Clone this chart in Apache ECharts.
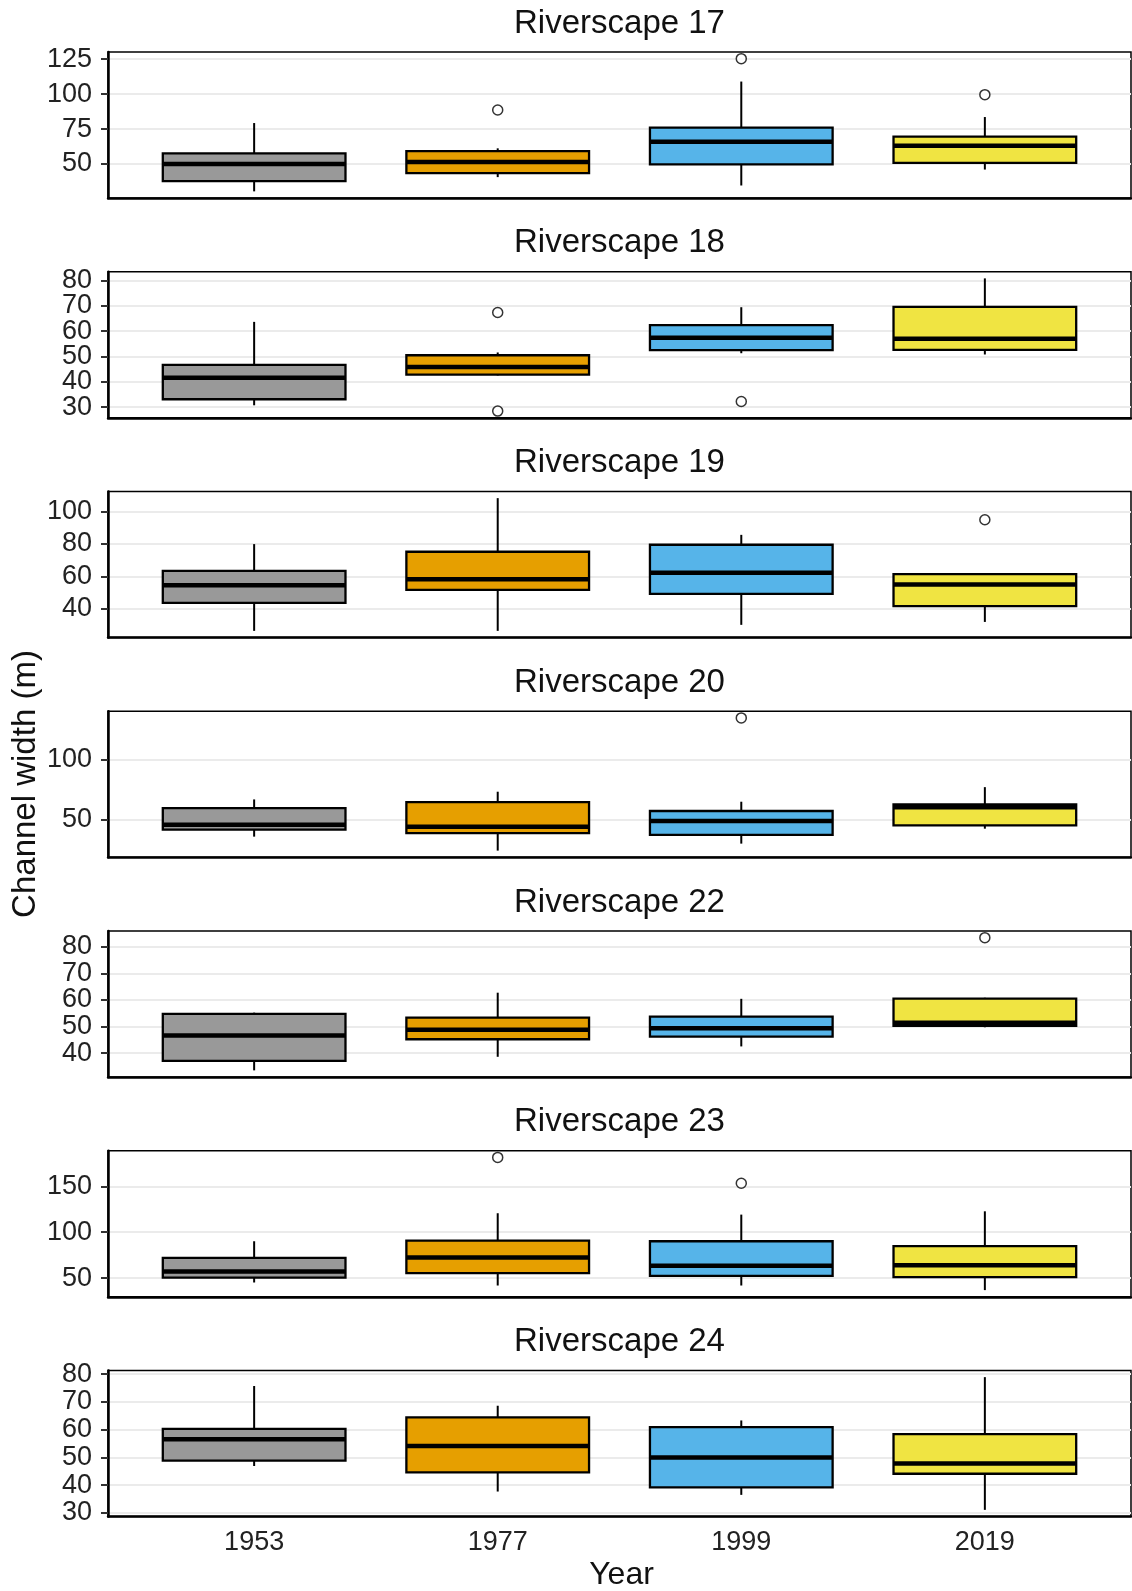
<!DOCTYPE html>
<html><head><meta charset="utf-8">
<script src="https://cdn.jsdelivr.net/npm/echarts@6/dist/echarts.min.js"></script>
<style>html,body{margin:0;padding:0;background:#fff}#chart{width:1132px;height:1591px}</style>
</head><body><div id="chart"></div>
<script>
// ---------------- DATA ----------------
const years = ['1953', '1977', '1999', '2019'];
const panelTitles = ['Riverscape 17', 'Riverscape 18', 'Riverscape 19', 'Riverscape 20',
                     'Riverscape 22', 'Riverscape 23', 'Riverscape 24'];
const yAxisTitle = 'Channel width (m)';
const xAxisTitle = 'Year';

// box stats per year: [lower whisker, Q1, median, Q3, upper whisker]
const box17 = [[30.4, 37.7, 50.0, 57.6, 79.3], [40.6, 43.5, 51.4, 59.2, 61.2], [34.6, 49.7, 66.0, 76.0, 109.0], [46.0, 50.8, 63.0, 69.6, 83.6]];
const box18 = [[30.7, 33.1, 41.6, 46.7, 63.7], [42.5, 42.8, 45.8, 50.5, 51.6], [51.3, 52.5, 57.4, 62.4, 69.5], [50.8, 52.6, 57.0, 69.6, 80.9]];
const box19 = [[26.5, 43.7, 54.6, 63.4, 79.9], [26.5, 51.7, 58.3, 75.2, 108.2], [30.2, 49.3, 62.2, 79.5, 85.6], [32.0, 41.7, 55.0, 61.4, 61.4]];
const box20 = [[36.2, 42.0, 46.0, 59.9, 67.1], [24.6, 39.2, 44.5, 64.9, 73.5], [30.4, 37.6, 49.2, 57.5, 65.2], [42.8, 45.6, 60.5, 63.0, 77.3]];
const box22 = [[33.5, 37.1, 46.6, 54.7, 55.2], [38.6, 45.2, 48.8, 53.3, 62.7], [42.5, 46.2, 49.3, 53.7, 60.4], [49.7, 50.2, 51.4, 60.5, 60.8]];
const box23 = [[45.3, 50.7, 57.2, 72.1, 90.2], [42.0, 55.4, 72.4, 90.9, 120.7], [42.0, 52.5, 63.4, 90.2, 119.2], [37.0, 51.1, 64.1, 84.8, 122.8]];
const box24 = [[46.9, 48.8, 56.5, 60.3, 75.7], [37.7, 44.6, 54.1, 64.4, 68.6], [36.5, 39.2, 50.0, 60.9, 63.3], [31.1, 44.1, 47.8, 58.4, 78.9]];

// outliers: [year, value]
const out17 = [['1977', 88.6], ['1999', 125.4], ['2019', 99.6]];
const out18 = [['1977', 67.4], ['1977', 28.4], ['1999', 32.2]];
const out19 = [['2019', 94.9]];
const out20 = [['1999', 134.8]];
const out22 = [['2019', 83.4]];
const out23 = [['1977', 181.5], ['1999', 153.3]];
const out24 = [];

// y tick labels per panel
const ticks17 = [50, 75, 100, 125];
const ticks18 = [30, 40, 50, 60, 70, 80];
const ticks19 = [40, 60, 80, 100];
const ticks20 = [50, 100];
const ticks22 = [40, 50, 60, 70, 80];
const ticks23 = [50, 100, 150];
const ticks24 = [30, 40, 50, 60, 70, 80];

// ---------------- STYLE / LAYOUT ----------------
const boxColors = ['#999999', '#E69F00', '#56B4E9', '#F0E442'];
const FONT = "'Liberation Sans', Arial, Helvetica, sans-serif";
const LEFT = 108, WIDTH = 1023, TOP0 = 52, STEP = 219.75, H = 146;
const BOX_W = 0.75;

const boxes = [box17, box18, box19, box20, box22, box23, box24];
const outs = [out17, out18, out19, out20, out22, out23, out24];
const ticks = [ticks17, ticks18, ticks19, ticks20, ticks22, ticks23, ticks24];

const grids = [], xAxes = [], yAxes = [], series = [], graphics = [];

function renderBox(params, api) {
  const idx = api.value(0);
  const lo = api.coord([idx, api.value(1)]);
  const q1 = api.coord([idx, api.value(2)]);
  const md = api.coord([idx, api.value(3)]);
  const q3 = api.coord([idx, api.value(4)]);
  const hi = api.coord([idx, api.value(5)]);
  const bw = api.size([BOX_W, 0])[0];
  const cx = lo[0];
  return {
    type: 'group',
    children: [
      { type: 'line', shape: { x1: cx, y1: hi[1], x2: cx, y2: lo[1] }, style: { stroke: '#000', lineWidth: 2 } },
      { type: 'rect', shape: { x: cx - bw / 2, y: q3[1], width: bw, height: q1[1] - q3[1] },
        style: { fill: boxColors[idx], stroke: '#000', lineWidth: 2.3 } },
      { type: 'line', shape: { x1: cx - bw / 2, y1: md[1], x2: cx + bw / 2, y2: md[1] }, style: { stroke: '#000', lineWidth: 4.5 } }
    ]
  };
}

function yAxisDef(i, mn, mx, vals, primary) {
  return {
    type: 'value', gridIndex: i, position: 'left', min: mn, max: mx,
    axisLine: { show: primary, onZero: false, lineStyle: { color: '#000', width: 2.5 } },
    axisTick: { show: true, length: 7, lineStyle: { color: '#333', width: 2 }, customValues: vals },
    axisLabel: { fontSize: 27, color: '#222', fontFamily: FONT, margin: 16, customValues: vals },
    splitLine: { show: true, lineStyle: { color: '#EBEBEB', width: 2 } }
  };
}

boxes.forEach((bx, i) => {
  const top = TOP0 + i * STEP;
  const isLast = i === boxes.length - 1;
  let vals = [];
  bx.forEach(b => vals = vals.concat(b));
  outs[i].forEach(o => vals.push(o[1]));
  const dmin = Math.min(...vals), dmax = Math.max(...vals);
  const pad = (dmax - dmin) * 0.05;
  const tA = ticks[i].filter((t, k) => k % 2 === 0);
  const tB = ticks[i].filter((t, k) => k % 2 === 1);

  grids.push({ left: LEFT, width: WIDTH, top: top, height: H, show: true,
               borderColor: '#000', borderWidth: 1.5, backgroundColor: 'transparent' });
  xAxes.push({
    type: 'value', gridIndex: i, position: 'bottom', min: -0.6, max: years.length - 0.4,
    axisLine: { show: true, onZero: false, lineStyle: { color: '#000', width: 2.5 } },
    axisTick: { show: false },
    axisLabel: { show: isLast, fontSize: 27, color: '#222', fontFamily: FONT, margin: 13,
                 customValues: years.map((y, k) => k), formatter: v => years[Math.round(v)] },
    splitLine: { show: false }
  });
  const ia = yAxes.length;
  yAxes.push(yAxisDef(i, dmin - pad, dmax + pad, tA, true));
  yAxes.push(yAxisDef(i, dmin - pad, dmax + pad, tB, false));
  series.push({
    type: 'custom', xAxisIndex: i, yAxisIndex: ia, renderItem: renderBox, z: 3,
    data: bx.map((b, k) => [k].concat(b))
  });
  series.push({
    type: 'scatter', xAxisIndex: i, yAxisIndex: ia, z: 4, symbol: 'circle', symbolSize: 10,
    itemStyle: { color: '#fff', borderColor: '#000', borderWidth: 1.5 },
    data: outs[i].map(o => [years.indexOf(o[0]), o[1]])
  });
  graphics.push({
    type: 'text', x: LEFT + WIDTH / 2, y: top - 28.5,
    style: { text: panelTitles[i], align: 'center', verticalAlign: 'middle',
             fontSize: 33, fontFamily: FONT, fill: '#111' }
  });
});

graphics.push({
  type: 'text', x: 26, y: 784, rotation: Math.PI / 2,
  style: { text: yAxisTitle, align: 'center', verticalAlign: 'middle', fontSize: 33, fontFamily: FONT, fill: '#111' }
});
graphics.push({
  type: 'text', x: LEFT + WIDTH / 2 + 2, y: 1575,
  style: { text: xAxisTitle, align: 'center', verticalAlign: 'middle', fontSize: 32, fontFamily: FONT, fill: '#111' }
});

const chart = echarts.init(document.getElementById('chart'), null, { renderer: 'canvas' });
chart.setOption({
  animation: false,
  backgroundColor: '#fff',
  grid: grids, xAxis: xAxes, yAxis: yAxes, series: series, graphic: graphics
});
</script></body></html>
